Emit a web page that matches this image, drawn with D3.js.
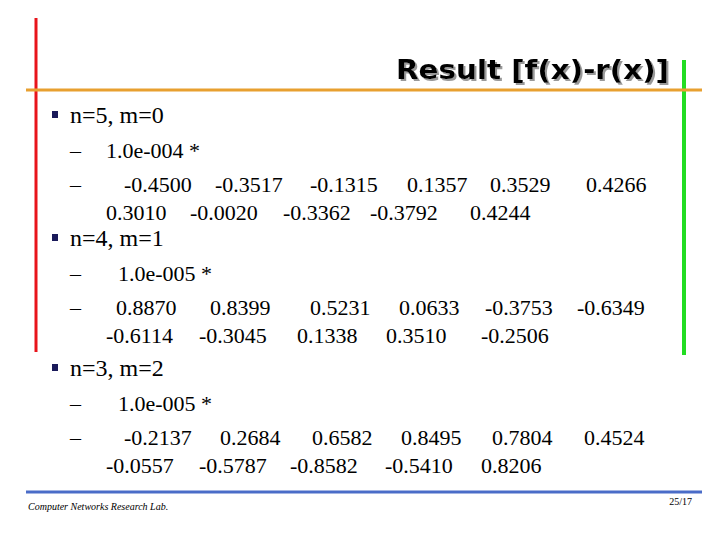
<!DOCTYPE html>
<html lang="en">
<head>
<meta charset="UTF-8">
<title>Result [f(x)-r(x)]</title>
<style>
  body { margin: 0; background: #fff; }
  text { white-space: pre; }
</style>
<script src="https://cdn.jsdelivr.net/npm/d3@7"></script>
</head>
<body>
<svg id="slide" width="720" height="540"></svg>
<script>
const title = "Result [f(x)-r(x)]";
const headings = ["n=5, m=0", "n=4, m=1", "n=3, m=2"];
const scales = ["1.0e-004 *", "1.0e-005 *", "1.0e-005 *"];
const row1 = [
  ["-0.4500", "-0.3517", "-0.1315", "0.1357", "0.3529", "0.4266"],
  ["0.8870", "0.8399", "0.5231", "0.0633", "-0.3753", "-0.6349"],
  ["-0.2137", "0.2684", "0.6582", "0.8495", "0.7804", "0.4524"]
];
const row2 = [
  ["0.3010", "-0.0020", "-0.3362", "-0.3792", "0.4244"],
  ["-0.6114", "-0.3045", "0.1338", "0.3510", "-0.2506"],
  ["-0.0557", "-0.5787", "-0.8582", "-0.5410", "0.8206"]
];
const footer = "Computer Networks Research Lab.";
const pageNo = "25/17";

const svg = d3.select("#slide");
const serif = "'Liberation Serif', 'Times New Roman', serif";

const f = svg.append("defs").append("filter").attr("id", "shadow")
  .attr("x", "-5%").attr("y", "-20%").attr("width", "115%").attr("height", "150%");
f.append("feDropShadow").attr("dx", 2).attr("dy", 2).attr("stdDeviation", 0.5)
  .attr("flood-color", "#999");

// frame lines
svg.append("line").attr("x1", 36).attr("x2", 36).attr("y1", 18).attr("y2", 352)
  .attr("stroke", "#e8141b").attr("stroke-width", 3);
svg.append("line").attr("x1", 684).attr("x2", 684).attr("y1", 60).attr("y2", 355)
  .attr("stroke", "#22dd22").attr("stroke-width", 4);
svg.append("line").attr("x1", 26).attr("x2", 702).attr("y1", 90).attr("y2", 90)
  .attr("stroke", "#e8a030").attr("stroke-width", 3);
svg.append("line").attr("x1", 26).attr("x2", 702).attr("y1", 492).attr("y2", 492)
  .attr("stroke", "#4a6cc8").attr("stroke-width", 3);

svg.append("text").attr("x", 669).attr("y", 79)
  .attr("text-anchor", "end")
  .attr("font-family", "'DejaVu Sans', sans-serif")
  .attr("font-weight", "bold").attr("font-size", 26)
  .attr("textLength", 273).attr("lengthAdjust", "spacingAndGlyphs")
  .attr("filter", "url(#shadow)")
  .text(title);

const y0 = [123, 246, 376];
const colsB = [
  [[124, 215, 310, 407, 490, 586], [106, 190, 283, 370, 470]],
  [[116, 210, 310, 399, 485, 577], [106, 199, 297, 386, 481]],
  [[124, 220, 312, 401, 492, 584], [106, 199, 290, 385, 481]]
];

headings.forEach((h, i) => {
  const y = y0[i];
  svg.append("rect").attr("x", 52).attr("y", y - 12).attr("width", 6).attr("height", 7).attr("fill", "#1a1a5a");
  svg.append("text").attr("x", 70).attr("y", y).attr("font-family", serif).attr("font-size", 24).text(h);
  const ya = y + 35, yb = y + 69, yc = y + 97;
  svg.append("text").attr("x", 70).attr("y", ya).attr("font-family", serif).attr("font-size", 22).text("–");
  svg.append("text").attr("x", i === 0 ? 106 : 118).attr("y", ya).attr("font-family", serif).attr("font-size", 22).text(scales[i]);
  svg.append("text").attr("x", 70).attr("y", yb).attr("font-family", serif).attr("font-size", 22).text("–");
  svg.selectAll(null).data(row1[i]).enter().append("text")
    .attr("x", (d, j) => colsB[i][0][j]).attr("y", yb)
    .attr("font-family", serif).attr("font-size", 22).text(d => d);
  svg.selectAll(null).data(row2[i]).enter().append("text")
    .attr("x", (d, j) => colsB[i][1][j]).attr("y", yc)
    .attr("font-family", serif).attr("font-size", 22).text(d => d);
});

svg.append("text").attr("x", 28).attr("y", 510).attr("font-family", serif)
  .attr("font-style", "italic").attr("font-size", 10).text(footer);
svg.append("text").attr("x", 692).attr("y", 505).attr("text-anchor", "end")
  .attr("font-family", serif).attr("font-size", 10).text(pageNo);
</script>
</body>
</html>
